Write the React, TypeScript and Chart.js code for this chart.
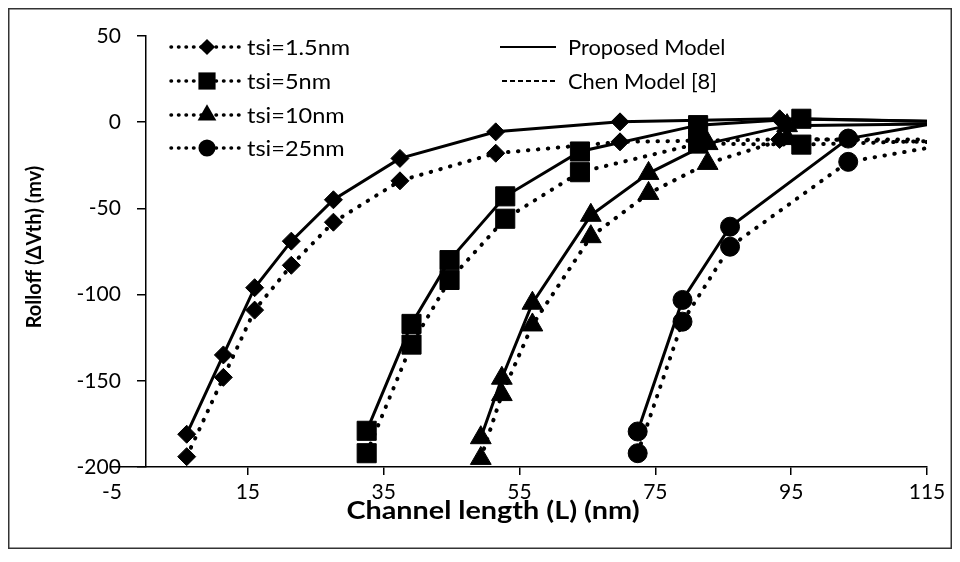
import React, { useEffect, useRef } from "react";
import { Chart, registerables } from "chart.js";

Chart.register(...registerables);

// Axis ticks
const xTicks = [-5, 15, 35, 55, 75, 95, 115];
const yTicks = [-200, -150, -100, -50, 0, 50];
const yMin = -200;
const yMax = 50;

// Series labels and marker shapes
const seriesNames = ["tsi=1.5nm", "tsi=5nm", "tsi=10nm", "tsi=25nm"];
const markerShapes = ["rectRot", "rect", "triangle", "circle"];
const markerSizes = [9, 13.5, 12, 9.5];
const modelNames = ["Proposed Model", "Chen Model [8]"];

// tsi = 1.5 nm
const lengthTsi15 = [6.0, 11.4, 16.0, 21.4, 27.6, 37.4, 51.5, 69.8, 93.3, 115];
const proposedTsi15 = [-181, -135, -96, -69, -45, -21, -5.6, 0.2, 2, 0.5];
const chenTsi15 = [-194, -148, -109, -83, -58, -34, -18, -11.4, -10, -10];

// tsi = 5 nm
const lengthTsi5 = [32.5, 39.1, 44.7, 52.9, 63.9, 81.3, 96.5, 115];
const proposedTsi5 = [-179, -117, -80, -43, -17, -1.7, 2, 0.5];
const chenTsi5 = [-192, -129, -91.5, -56, -29, -12.4, -13, -11];

// tsi = 10 nm
const lengthTsi10 = [49.3, 52.4, 56.9, 65.5, 74.0, 82.7, 94.4, 115];
const proposedTsi10 = [-183, -148.5, -105, -54, -29.7, -12.4, -2, -1];
const chenTsi10 = [-195, -158, -117.6, -66.4, -41.3, -23.9, -9.5, -11.5];

// tsi = 25 nm
const lengthTsi25 = [72.4, 79.0, 86.0, 103.4, 115];
const proposedTsi25 = [-179.4, -103.1, -60.6, -9.5, -1.5];
const chenTsi25 = [-192, -115.7, -72.2, -23, -15];

const lengths = [lengthTsi15, lengthTsi5, lengthTsi10, lengthTsi25];
const proposed = [proposedTsi15, proposedTsi5, proposedTsi10, proposedTsi25];
const chen = [chenTsi15, chenTsi5, chenTsi10, chenTsi25];

const INK = "#000";
const FONT = "Lato, 'Open Sans', sans-serif";

function toPoints(xs: number[], ys: number[]) {
  return xs.map((x, i) => ({ x, y: ys[i] }));
}

// the last point of each curve (at L = 115) carries no marker
function radii(n: number, r: number) {
  return Array.from({ length: n }, (_, i) => (i === n - 1 ? 0 : r));
}

function drawMarker(ctx: CanvasRenderingContext2D, shape: string, x: number, y: number, r: number) {
  ctx.beginPath();
  if (shape === "rectRot") {
    ctx.moveTo(x, y - r);
    ctx.lineTo(x + r, y);
    ctx.lineTo(x, y + r);
    ctx.lineTo(x - r, y);
  } else if (shape === "rect") {
    const s = r * Math.SQRT1_2;
    ctx.rect(x - s, y - s, 2 * s, 2 * s);
  } else if (shape === "triangle") {
    ctx.moveTo(x, y - r);
    ctx.lineTo(x + r * Math.sin((2 * Math.PI) / 3), y + r / 2);
    ctx.lineTo(x - r * Math.sin((2 * Math.PI) / 3), y + r / 2);
  } else {
    ctx.arc(x, y, r, 0, Math.PI * 2);
  }
  ctx.closePath();
  ctx.fill();
}

// lettering drawn slightly widened
function wideText(ctx: CanvasRenderingContext2D, text: string, x: number, y: number, sx: number) {
  ctx.save();
  ctx.translate(x, y);
  ctx.scale(sx, 1);
  ctx.fillText(text, 0, 0);
  ctx.restore();
}

const framePlugin = {
  id: "frame",
  beforeDraw(chart: any) {
    const { ctx, width, height } = chart;
    ctx.save();
    ctx.fillStyle = "#fff";
    ctx.fillRect(0, 0, width, height);
    ctx.restore();
  },
  afterDraw(chart: any) {
    const { ctx, width, height } = chart;
    ctx.save();
    ctx.strokeStyle = "#333";
    ctx.lineWidth = 1.5;
    ctx.strokeRect(0.75, 0.75, width - 1.5, height - 1.5);

    // axis titles
    ctx.fillStyle = INK;
    ctx.textAlign = "center";
    ctx.textBaseline = "middle";
    ctx.font = `bold 24px ${FONT}`;
    wideText(ctx, "Channel length (L) (nm)", 485, 503, 1.2);
    ctx.save();
    ctx.translate(27, 239);
    ctx.rotate(-Math.PI / 2);
    ctx.font = `bold 20px ${FONT}`;
    ctx.fillText("Rolloff (\u0394Vth) (mv)", 0, 0);
    ctx.restore();

    // legend: series column
    ctx.textAlign = "left";
    ctx.font = `21px ${FONT}`;
    const rowY = [39, 73, 107, 140];
    seriesNames.forEach((name, i) => {
      const y = rowY[i];
      ctx.save();
      ctx.strokeStyle = INK;
      ctx.lineWidth = 3.5;
      ctx.lineCap = "round";
      ctx.setLineDash([0.5, 7]);
      ctx.beginPath();
      ctx.moveTo(163, y);
      ctx.lineTo(232, y);
      ctx.stroke();
      ctx.restore();
      ctx.fillStyle = INK;
      drawMarker(ctx, markerShapes[i], 199, y, markerSizes[i] * 0.9);
      wideText(ctx, name, 239, y + 1, 1.12);
    });

    // legend: model column
    ctx.save();
    ctx.strokeStyle = INK;
    ctx.lineWidth = 2;
    ctx.beginPath();
    ctx.moveTo(492, rowY[0]);
    ctx.lineTo(548, rowY[0]);
    ctx.stroke();
    ctx.setLineDash([5, 3]);
    ctx.beginPath();
    ctx.moveTo(494, rowY[1]);
    ctx.lineTo(548, rowY[1]);
    ctx.stroke();
    ctx.restore();
    wideText(ctx, modelNames[0], 560, rowY[0] + 1, 1.04);
    wideText(ctx, modelNames[1], 560, rowY[1] + 1, 1.04);
    ctx.restore();
  },
};

export default function App() {
  const canvasRef = useRef<HTMLCanvasElement | null>(null);

  useEffect(() => {
    if (!canvasRef.current) return;
    const datasets: any[] = [];
    lengths.forEach((xs, i) => {
      const n = xs.length;
      datasets.push({
        label: `${seriesNames[i]} ${modelNames[1]}`,
        data: toPoints(xs, chen[i]),
        borderColor: INK,
        backgroundColor: INK,
        borderWidth: 4,
        borderDash: [0.5, 9.5],
        borderCapStyle: "round",
        pointStyle: markerShapes[i],
        pointRadius: radii(n, markerSizes[i]),
        pointBackgroundColor: INK,
        pointBorderColor: INK,
        pointBorderWidth: 1,
        tension: 0,
      });
      datasets.push({
        label: `${seriesNames[i]} ${modelNames[0]}`,
        data: toPoints(xs, proposed[i]),
        borderColor: INK,
        backgroundColor: INK,
        borderWidth: 3,
        pointStyle: markerShapes[i],
        pointRadius: radii(n, markerSizes[i]),
        pointBackgroundColor: INK,
        pointBorderColor: INK,
        pointBorderWidth: 1,
        tension: 0,
      });
    });

    const setYTicks = (s: any) => {
      s.ticks = yTicks.map((v) => ({ value: v }));
    };

    const chart = new Chart(canvasRef.current, {
      type: "line",
      data: { datasets },
      options: {
        animation: false,
        responsive: false,
        devicePixelRatio: 1,
        layout: { padding: { left: 104, top: 28, right: 25, bottom: 0 } },
        plugins: {
          legend: { display: false },
          tooltip: { enabled: false },
          title: { display: false },
        },
        scales: {
          x: {
            type: "linear",
            min: -5,
            max: 115,
            afterBuildTicks: (s: any) => {
              s.ticks = xTicks.map((v) => ({ value: v }));
            },
            afterFit: (s: any) => {
              s.height = 82;
            },
            ticks: {
              color: INK,
              font: { family: FONT, size: 21 },
              padding: 5,
              maxRotation: 0,
              autoSkip: false,
            },
            grid: {
              display: true,
              drawOnChartArea: false,
              drawTicks: true,
              tickLength: 8,
              color: (c: any) => (c.tick && c.tick.value === xTicks[0] ? "rgba(0,0,0,0)" : INK),
              lineWidth: 1.5,
            },
            border: { display: true, color: INK, width: 1.5 },
          },
          // value axis: the line and its tick marks cross the x axis at L = 0
          y: {
            type: "linear",
            position: { x: 0 },
            min: yMin,
            max: yMax,
            afterBuildTicks: setYTicks,
            ticks: { display: false },
            grid: {
              display: true,
              drawOnChartArea: false,
              drawTicks: true,
              tickLength: 8,
              color: INK,
              lineWidth: 1.5,
            },
            border: { display: true, color: INK, width: 1.5 },
          },
          // value axis labels, right-aligned just inside the left edge of the plot
          yLabels: {
            type: "linear",
            axis: "y",
            position: { x: -3.7 },
            min: yMin,
            max: yMax,
            afterBuildTicks: setYTicks,
            ticks: {
              color: INK,
              font: { family: FONT, size: 21 },
              autoSkip: false,
            },
            grid: { display: false, drawTicks: false, drawOnChartArea: false },
            border: { display: false },
          },
        },
      },
      plugins: [framePlugin],
    });
    return () => chart.destroy();
  }, []);

  return (
    <div style={{ width: 944, height: 541 }}>
      <canvas ref={canvasRef} width={944} height={541} />
    </div>
  );
}
